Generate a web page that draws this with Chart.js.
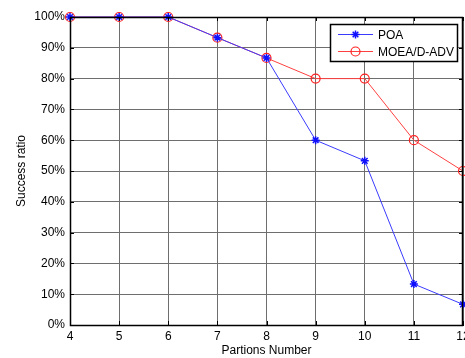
<!DOCTYPE html>
<html>
<head>
<meta charset="utf-8">
<script src="https://cdn.jsdelivr.net/npm/chart.js@4/dist/chart.umd.min.js"></script>
<style>
  html, body { margin: 0; padding: 0; background: #fff; }
  #wrap { width: 465px; height: 358px; }
</style>
</head>
<body>
<div id="wrap"><canvas id="chart"></canvas></div>
<script>
const PARTITIONS = [4, 5, 6, 7, 8, 9, 10, 11, 12];
const POA = [100, 100, 100, 93.3, 86.7, 60, 53.3, 13.3, 6.7];
const MOEA_ADV = [100, 100, 100, 93.3, 86.7, 80, 80, 60, 50];

const FONT = { family: '"Liberation Sans", Arial, sans-serif', size: 12 };

// matlab-ish frame with inward tick marks and a boxed legend
const framePlugin = {
  id: 'frame',
  afterDatasetsDraw(chart) {
    let { ctx, chartArea: a, scales } = chart;
    ctx.save();
    ctx.strokeStyle = '#000';
    ctx.lineWidth = 1;
    ctx.beginPath();
    scales.x.ticks.forEach((t, i) => {
      let px = Math.round(scales.x.getPixelForTick(i)) + 0.5;
      ctx.moveTo(px, a.top); ctx.lineTo(px, a.top + 4);
      ctx.moveTo(px, a.bottom); ctx.lineTo(px, a.bottom - 4);
    });
    scales.y.ticks.forEach((t, i) => {
      let py = Math.round(scales.y.getPixelForTick(i)) + 0.5;
      ctx.moveTo(a.left, py); ctx.lineTo(a.left + 4, py);
      ctx.moveTo(a.right, py); ctx.lineTo(a.right - 4, py);
    });
    ctx.stroke();
    ctx.lineWidth = 1.5;
    ctx.strokeRect(Math.round(a.left) + 0.5, Math.round(a.top) + 0.5,
      Math.round(a.right - a.left) - 1, Math.round(a.bottom - a.top));

    // legend
    let lx = 330, ly = 24, lw = 127, lh = 37;
    ctx.fillStyle = '#fff';
    ctx.fillRect(lx, ly, lw, lh);
    ctx.lineWidth = 1.5;
    ctx.strokeStyle = '#000';
    ctx.strokeRect(lx + 0.5, ly + 0.5, lw, lh);
    ctx.font = '12px "Liberation Sans", Arial, sans-serif';
    ctx.textBaseline = 'middle';
    chart.data.datasets.forEach((ds, i) => {
      let yy = ly + 10 + i * 17 + 0.5;
      ctx.lineWidth = 1;
      ctx.strokeStyle = ds.borderColor;
      ctx.beginPath();
      ctx.moveTo(lx + 8, yy); ctx.lineTo(lx + 43, yy);
      ctx.stroke();
      ctx.fillStyle = 'rgba(0,0,0,0)';
      ctx.strokeStyle = ds.pointBorderColor;
      ctx.lineWidth = ds.pointBorderWidth;
      Chart.helpers.drawPoint(ctx, {
        pointStyle: ds.pointStyle, radius: ds.pointRadius, borderWidth: ds.pointBorderWidth
      }, lx + 25.5, yy);
      ctx.fillStyle = '#000';
      ctx.fillText(ds.label, lx + 48, yy + 1);
    });
    ctx.restore();
  }
};

new Chart(document.getElementById('chart'), {
  type: 'line',
  data: {
    labels: PARTITIONS,
    datasets: [
      {
        label: 'POA',
        data: POA,
        borderColor: '#3b3bff',
        backgroundColor: '#2020ff',
        borderWidth: 1,
        pointStyle: 'star',
        pointRadius: 4,
        pointBorderWidth: 1.5,
        pointBorderColor: '#1010ff',
        tension: 0,
        clip: false,
      },
      {
        label: 'MOEA/D-ADV',
        data: MOEA_ADV,
        borderColor: '#ff4040',
        backgroundColor: 'rgba(0,0,0,0)',
        borderWidth: 1,
        pointStyle: 'circle',
        pointRadius: 4.5,
        pointBorderWidth: 1.2,
        pointBorderColor: '#ff2020',
        tension: 0,
        clip: false,
      },
    ],
  },
  options: {
    animation: false,
    responsive: true,
    maintainAspectRatio: false,
    layout: { autoPadding: false, padding: { top: 17, right: 2, left: 0, bottom: 0 } },
    plugins: { legend: { display: false }, tooltip: { enabled: false } },
    scales: {
      x: {
        type: 'category',
        offset: false,
        grid: { color: '#6e6e6e', lineWidth: 1, drawTicks: false },
        border: { color: '#000' },
        ticks: { color: '#000', font: FONT, padding: 4, maxRotation: 0, autoSkip: false },
        title: { display: true, text: 'Partions Number', color: '#000', font: FONT, padding: { top: 1, bottom: 0 } },
        afterFit(scale) {
          scale.height = 33;
          scale.paddingLeft = 0;
          scale.paddingRight = 0;
        },
      },
      y: {
        min: 0,
        max: 100,
        grid: { color: '#6e6e6e', lineWidth: 1, drawTicks: false },
        border: { color: '#000' },
        ticks: {
          stepSize: 10,
          color: '#000',
          font: FONT,
          padding: 5,
          callback: v => v + '%',
        },
        title: { display: true, text: 'Success ratio', color: '#000', font: FONT, padding: { top: 14, bottom: 0 } },
        afterFit(scale) {
          scale.width = 70;
          scale.paddingTop = 0;
          scale.paddingBottom = 0;
        },
      },
    },
  },
  plugins: [framePlugin],
});
</script>
</body>
</html>
